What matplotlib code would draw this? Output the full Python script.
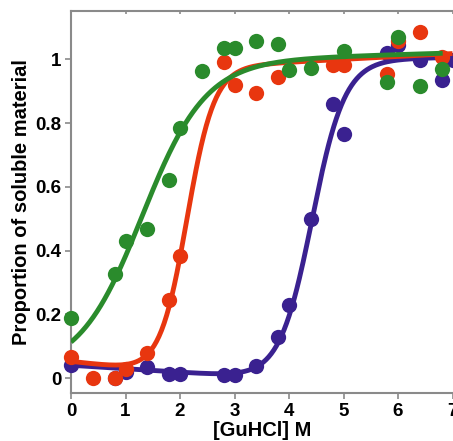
import numpy as np
import matplotlib
matplotlib.use("Agg")
import matplotlib.pyplot as plt

plt.rcParams['font.family'] = ['Liberation Sans', 'DejaVu Sans']
plt.rcParams['font.weight'] = 'bold'

# measured points: [GuHCl] (M) vs proportion soluble
blue_x = [0, 0.8, 1.0, 1.4, 1.8, 2.0, 2.8, 3.0, 3.4, 3.8, 4.0, 4.4, 4.8, 5.0, 5.8, 6.0, 6.4, 6.8, 7.0]
blue_y = [0.04, 0.0, 0.02, 0.035, 0.012, 0.012, 0.01, 0.01, 0.037, 0.13, 0.23, 0.50, 0.86, 0.766,
          1.019, 1.045, 0.998, 0.935, 0.998]

red_x = [0, 0.4, 0.8, 1.0, 1.4, 1.8, 2.0, 2.8, 3.0, 3.4, 3.8, 4.8, 5.0, 5.8, 6.0, 6.4, 6.8]
red_y = [0.067, 0.0, 0.0, 0.028, 0.077, 0.245, 0.384, 0.993, 0.92, 0.895, 0.943, 0.982, 0.982,
         0.954, 1.058, 1.087, 1.006]

green_x = [0, 0.8, 1.0, 1.4, 1.8, 2.0, 2.4, 2.8, 3.0, 3.4, 3.8, 4.0, 4.4, 5.0, 5.8, 6.0, 6.4, 6.8]
green_y = [0.187, 0.326, 0.431, 0.468, 0.621, 0.783, 0.964, 1.036, 1.036, 1.058, 1.047, 0.966,
           0.972, 1.027, 0.93, 1.071, 0.916, 0.969]

# fitted transition parameters: midpoint, width, pre-baseline (a0, a1), post-baseline (b0, b1), x range
blue_fit = dict(m=4.42, s=0.30, a0=0.040, a1=-0.011, b0=0.985, b1=0.003, x1=7.0)
red_fit = dict(m=2.12, s=0.25, a0=0.052, a1=-0.020, b0=0.955, b1=0.009, x1=7.0)
green_fit = dict(m=1.30, s=0.58, a0=0.020, a1=0.0, b0=0.985, b1=0.005, x1=6.82)

BLUE = '#3a2190'
RED = '#e8360f'
GREEN = '#2a8b2c'


def transition(x, m, s, a0, a1, b0, b1, x1):
    pre = a0 + a1 * x
    post = b0 + b1 * x
    return pre + (post - pre) / (1 + np.exp((m - x) / s))


fig = plt.figure(figsize=(4.53, 4.41), dpi=100)
ax = fig.add_axes([71 / 453, 1 - 393.3 / 441, 381.5 / 453, (393.3 - 10.7) / 441])

for xs, ys, fit, col in [(blue_x, blue_y, blue_fit, BLUE),
                         (red_x, red_y, red_fit, RED),
                         (green_x, green_y, green_fit, GREEN)]:
    ax.plot(xs, ys, 'o', color=col, markersize=11, markeredgewidth=0, clip_on=False, zorder=3)
    xx = np.linspace(0, fit['x1'], 300)
    ax.plot(xx, transition(xx, **fit), color=col, lw=3.5, solid_capstyle='butt', zorder=3)

ax.set_xlim(0, 7)
ax.set_ylim(-0.048, 1.1525)
ax.set_xticks(range(8))
ax.set_yticks([0, 0.2, 0.4, 0.6, 0.8, 1.0])
ax.set_yticklabels(['0', '0.2', '0.4', '0.6', '0.8', '1'])

for side in ['left', 'bottom', 'top']:
    ax.spines[side].set_color('#8a8a8a')
    ax.spines[side].set_linewidth(1.5)
ax.spines['right'].set_visible(False)

ax.tick_params(axis='both', which='major', labelsize=13.5, color='#8a8a8a', width=1.2,
               length=4, direction='out', pad=3)
ax.tick_params(axis='x', top=True, labeltop=False)
for t in ax.xaxis.get_major_ticks():
    t.tick2line.set_markersize(2.5)
    t.tick2line.set_marker(3)

ax.set_xlabel('[GuHCl] M', fontsize=14.5, fontweight='bold', labelpad=1)
ax.set_ylabel('Proportion of soluble material', fontsize=14.5, fontweight='bold', labelpad=3)

fig.savefig('out.png', dpi=100)
